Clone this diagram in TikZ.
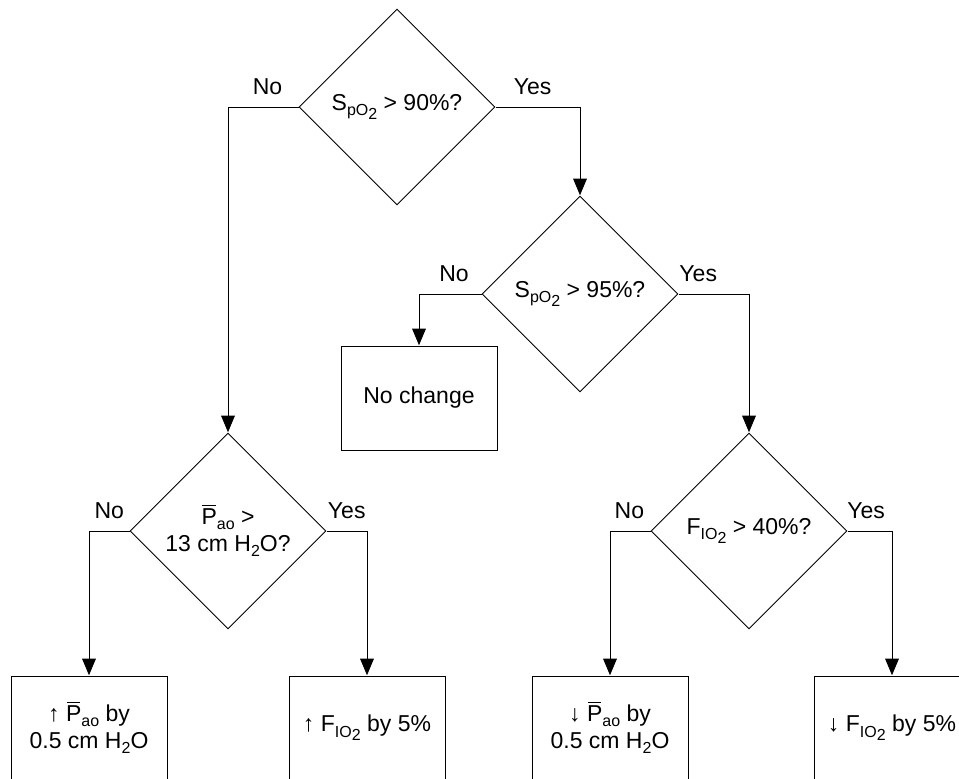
\documentclass[tikz,border=0pt]{standalone}
\usepackage{fontspec}
\setmainfont{Liberation Sans}
\usetikzlibrary{arrows.meta, positioning, shapes.geometric}

\newcommand{\pbar}{\leavevmode\makebox[0pt][l]{\hspace{0.04em}\raisebox{0.8em}{\rule{0.58em}{0.045em}}}P}
\newcommand{\lo}[1]{\raisebox{-0.45ex}{\fontsize{8}{9}\selectfont #1}}

\begin{document}
\begin{tikzpicture}[x=0.5pt, y=-0.5pt]
	\tikzset {>={Triangle[length=8.5pt,width=7pt]}, line width=0.5pt, font=\fontsize{11.5}{13.5}\selectfont,
		test/.style={diamond, draw, aspect=1, inner sep=0pt, minimum size=98pt, align=center},
		act/.style={rectangle, draw, inner sep=0pt, minimum width=78pt, minimum height=52pt, align=center},
		lbl/.style={anchor=base, yshift=6.5pt} }
	\useasboundingbox (0,0) rectangle (959,778);
	% decisions
	\node[test] (q0) at (397,107) {S\lo{pO\lo{2}} > 90\%?};
	\node[test] (q1) at (580,294) {S\lo{pO\lo{2}} > 95\%?};
	\node[test] (q2) at (228,531) {\pbar\lo{ao} >\\13 cm H\lo{2}O?};
	\node[test] (q3) at (749,531) {F\lo{IO\lo{2}} > 40\%?};
	% actions
	\node[act] (r0) at (419,398) {No change};
	\node[act] (r1) at (89,728) {↑ \pbar\lo{ao} by\\0.5 cm H\lo{2}O};
	\node[act] (r2) at (367,728) {↑ F\lo{IO\lo{2}} by 5\%};
	\node[act] (r3) at (610,728) {↓ \pbar\lo{ao} by\\0.5 cm H\lo{2}O};
	\node[act] (r4) at (892,728) {↓ F\lo{IO\lo{2}} by 5\%};

	\draw[->] (q0.west) -| node[lbl, pos=0.22] {No} (q2.north);
	\draw[->] (q0.east) -| node[lbl, pos=0.22] {Yes} (q1.north);
	\draw[->] (q1.west) -| node[lbl, pos=0.22] {No} (r0.north);
	\draw[->] (q1.east) -| node[lbl, pos=0.14] {Yes} (q3.north);
	\draw[->] (q2.west) -| node[lbl, pos=0.25] {No} (r1.north);
	\draw[->] (q2.east) -| node[lbl, pos=0.25] {Yes} (r2.north);
	\draw[->] (q3.west) -| node[lbl, pos=0.26] {No} (r3.north);
	\draw[->] (q3.east) -| node[lbl, pos=0.21] {Yes} (r4.north);
\end{tikzpicture}
\end{document}
